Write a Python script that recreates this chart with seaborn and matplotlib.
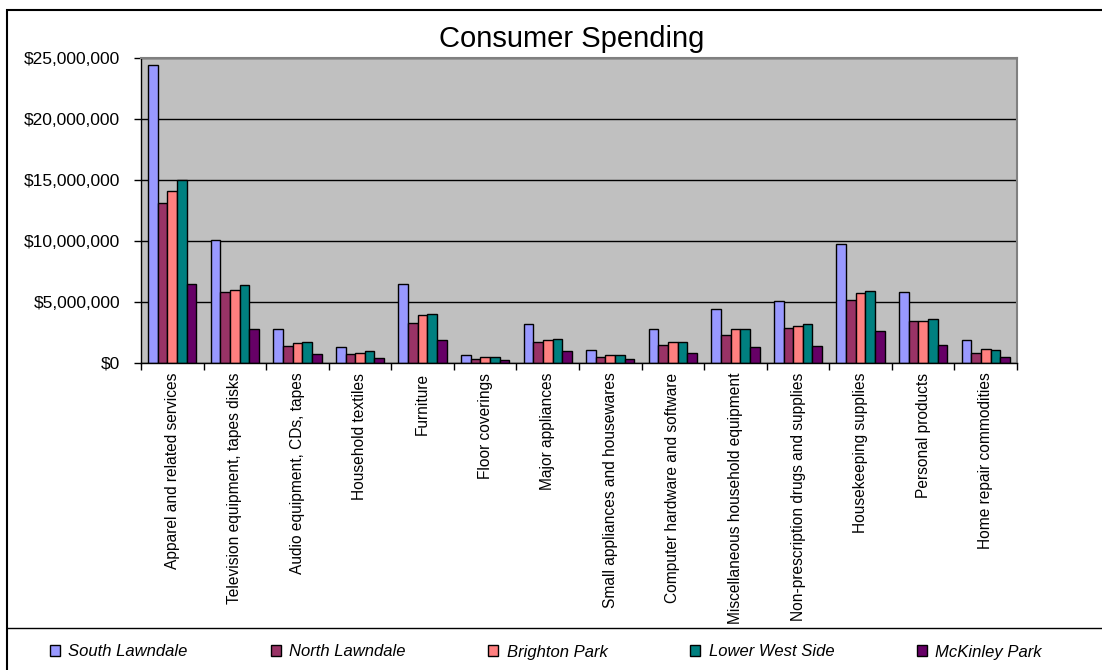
import numpy as np
import pandas as pd
import seaborn as sns
import matplotlib
matplotlib.use("Agg")
import matplotlib.pyplot as plt
from matplotlib.patches import Rectangle
from matplotlib.lines import Line2D
from matplotlib.ticker import FuncFormatter, MultipleLocator, FixedLocator

categories = [
    "Apparel and related services",
    "Television equipment, tapes disks",
    "Audio equipment, CDs, tapes",
    "Household textiles",
    "Furniture",
    "Floor coverings",
    "Major appliances",
    "Small appliances and housewares",
    "Computer hardware and software",
    "Miscellaneous household equipment",
    "Non-prescription drugs and supplies",
    "Housekeeping supplies",
    "Personal products",
    "Home repair commodities",
]

areas = ["South Lawndale", "North Lawndale", "Brighton Park", "Lower West Side", "McKinley Park"]

south_lawndale = [24.4, 10.1, 2.8, 1.3, 6.5, 0.63, 3.2, 1.04, 2.8, 4.4, 5.1, 9.75, 5.8, 1.85]
north_lawndale = [13.1, 5.8, 1.4, 0.7, 3.3, 0.33, 1.7, 0.52, 1.5, 2.3, 2.9, 5.2, 3.45, 0.85]
brighton_park = [14.1, 6.0, 1.6, 0.85, 3.9, 0.47, 1.9, 0.63, 1.75, 2.8, 3.0, 5.7, 3.45, 1.15]
lower_west_side = [15.0, 6.4, 1.7, 0.95, 4.0, 0.47, 2.0, 0.63, 1.75, 2.8, 3.2, 5.9, 3.6, 1.04]
mckinley_park = [6.5, 2.8, 0.7, 0.45, 1.9, 0.25, 0.95, 0.35, 0.85, 1.3, 1.4, 2.65, 1.5, 0.52]

colors = ["#9999FF", "#993366", "#FF8080", "#008080", "#660066"]

series = [south_lawndale, north_lawndale, brighton_park, lower_west_side, mckinley_park]
rows = []
for area, vals in zip(areas, series):
    for cat, v in zip(categories, vals):
        rows.append({"category": cat, "area": area, "value": v * 1e6})
df = pd.DataFrame(rows)

sns.set_theme(style="white")
plt.rcParams["font.family"] = ["Liberation Sans", "DejaVu Sans"]
plt.rcParams["text.color"] = "black"
plt.rcParams["xtick.color"] = "black"
plt.rcParams["ytick.color"] = "black"
plt.rcParams["axes.labelcolor"] = "black"

fig = plt.figure(figsize=(11.02, 6.70), dpi=100)
ax = fig.add_axes([141 / 1102, 1 - 363 / 670, (1017 - 141) / 1102, (363 - 58) / 670])
ax.set_facecolor("#C0C0C0")

sns.barplot(data=df, x="category", y="value", hue="area", order=categories,
            hue_order=areas, palette=colors, width=0.77, saturation=1,
            edgecolor="black", linewidth=1, ax=ax, errorbar=None)

handles, labels = ax.get_legend_handles_labels()
if ax.legend_ is not None:
    ax.legend_.remove()

ax.set_ylim(0, 25e6)
ax.set_xlim(-0.5, len(categories) - 0.5)
ax.yaxis.set_major_locator(MultipleLocator(5e6))
ax.yaxis.set_major_formatter(FuncFormatter(lambda v, p: f"${v:,.0f}"))
ax.grid(axis="y", color="black", linewidth=1)
ax.set_axisbelow(True)
ax.set_xlabel("")
ax.set_ylabel("")

ax.set_xticks(range(len(categories)))
ax.set_xticklabels(categories, rotation=90, ha="center", va="top", fontsize=11.2)
ax.xaxis.set_minor_locator(FixedLocator(np.arange(-0.5, len(categories), 1.0)))
ax.tick_params(axis="x", which="major", length=0, pad=7)
ax.tick_params(axis="x", which="minor", length=5, width=1, color="black", direction="out", bottom=True)
ax.tick_params(axis="y", which="major", length=5, width=1, color="black", direction="out",
               left=True, labelsize=12.5, pad=10)

for side in ["top", "right"]:
    ax.spines[side].set_color("#808080")
    ax.spines[side].set_linewidth(1.5)
for side in ["left", "bottom"]:
    ax.spines[side].set_color("black")
    ax.spines[side].set_linewidth(1)

fig.text(572 / 1102, 1 - 47 / 670, "Consumer Spending", ha="center",
         va="baseline", fontsize=21, color="black")

# outer border and legend separator
fig.patches.append(Rectangle((7 / 1102, -0.1), 2, 1 - 10 / 670 + 0.1,
                             transform=fig.transFigure, fill=False,
                             edgecolor="black", linewidth=1.5))
fig.lines.append(Line2D([7 / 1102, 1], [1 - 628 / 670, 1 - 628 / 670],
                        transform=fig.transFigure, color="black", linewidth=1))

fig.legend(handles, labels, loc="center", ncol=5, mode="expand",
           bbox_to_anchor=(50 / 1102, 1 - 664 / 670, (1042 - 50) / 1102, 24 / 670),
           frameon=False, prop={"style": "italic", "size": 12},
           handlelength=0.6, handleheight=0.6, handletextpad=0.5,
           borderpad=0, borderaxespad=0)

fig.savefig("out.png", dpi=100)
